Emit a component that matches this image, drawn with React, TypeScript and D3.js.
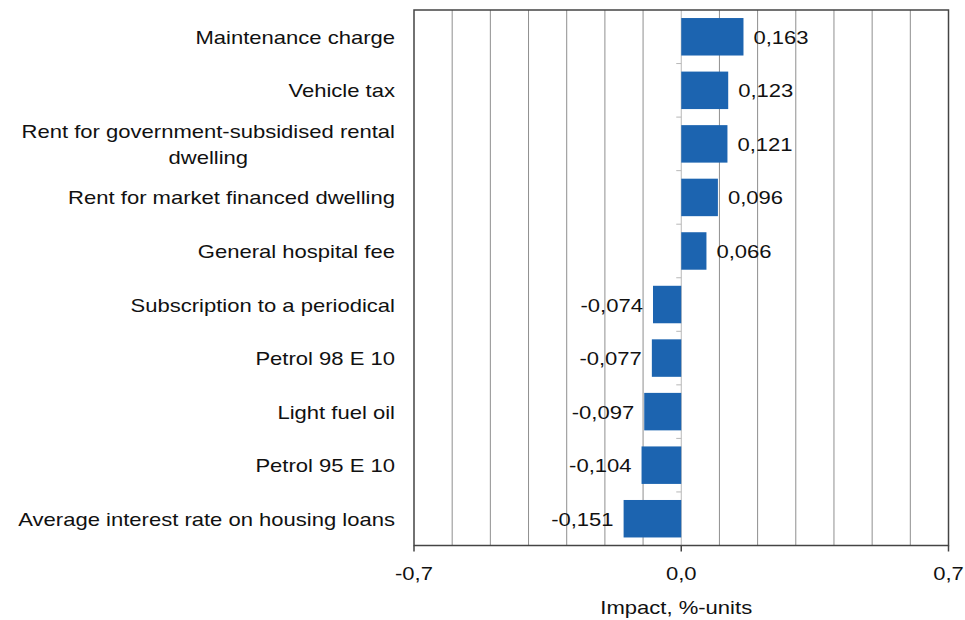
import React, { useEffect, useRef } from 'react';
import * as d3 from 'd3';

const categories = [
  'Maintenance charge',
  'Vehicle tax',
  'Rent for government-subsidised rental dwelling',
  'Rent for market financed dwelling',
  'General hospital fee',
  'Subscription to a periodical',
  'Petrol 98 E 10',
  'Light fuel oil',
  'Petrol 95 E 10',
  'Average interest rate on housing loans',
];
const values = [0.163, 0.123, 0.121, 0.096, 0.066, -0.074, -0.077, -0.097, -0.104, -0.151];
const axisTicks = [-0.7, 0, 0.7];
const gridValues = d3.range(-6, 8).map((d) => d / 10);
const axisTitle = 'Impact, %-units';

const W = 965;
const H = 620;
const SX = 1.16; // source picture is stretched horizontally
const FONT = '"Liberation Sans", Arial, sans-serif';
const fmt = (v: number, digits: number) => v.toFixed(digits).replace('.', ',');

const App = () => {
  const ref = useRef<SVGSVGElement>(null);

  useEffect(() => {
    const svg = d3.select(ref.current);
    svg.selectAll('*').remove();

    const left = 414, right = 948.5, top = 10, bottom = 545.5;
    const x = d3.scaleLinear().domain([-0.7, 0.7]).range([left, right]);
    const y = d3.scaleBand<string>().domain(categories).range([top, bottom])
      .paddingInner(0.3).paddingOuter(0.15);

    const g = svg.append('g');

    // grid lines
    g.selectAll('.grid')
      .data(gridValues.filter((d) => Math.abs(d) > 1e-9 && d < 0.69))
      .enter().append('line')
      .attr('x1', (d) => x(d)).attr('x2', (d) => x(d))
      .attr('y1', top).attr('y2', bottom)
      .attr('stroke', '#8f8f8f').attr('stroke-width', 1);

    // zero axis with category ticks
    g.append('line')
      .attr('x1', x(0)).attr('x2', x(0)).attr('y1', top).attr('y2', bottom)
      .attr('stroke', '#b8b8b8').attr('stroke-width', 1);
    const step = y.step();
    g.selectAll('.ctick')
      .data(d3.range(1, categories.length))
      .enter().append('line')
      .attr('x1', x(0) - 5).attr('x2', x(0))
      .attr('y1', (i) => top + i * step).attr('y2', (i) => top + i * step)
      .attr('stroke', '#b8b8b8').attr('stroke-width', 1);

    // bars
    g.selectAll('.bar')
      .data(values)
      .enter().append('rect')
      .attr('x', (d) => x(Math.min(0, d)))
      .attr('y', (_, i) => y(categories[i])!)
      .attr('width', (d) => Math.abs(x(d) - x(0)))
      .attr('height', y.bandwidth())
      .attr('fill', '#1c64b0');

    // plot border
    g.append('rect')
      .attr('x', left).attr('y', top)
      .attr('width', right - left).attr('height', bottom - top)
      .attr('fill', 'none').attr('stroke', '#444').attr('stroke-width', 1.5);

    // bottom ticks
    g.selectAll('.xtick')
      .data(axisTicks)
      .enter().append('line')
      .attr('x1', (d) => x(d)).attr('x2', (d) => x(d))
      .attr('y1', bottom).attr('y2', bottom + 6)
      .attr('stroke', '#444').attr('stroke-width', 1.5);

    const text = (sel: any, tx: number, ty: number) =>
      sel.attr('transform', `translate(${tx},${ty}) scale(${SX},1)`)
        .attr('font-family', FONT).attr('font-size', 19).attr('fill', '#111');

    axisTicks.forEach((t) => {
      text(g.append('text'), x(t), 580).attr('text-anchor', 'middle').text(fmt(t, 1));
    });
    text(g.append('text'), (left + right) / 2 - 5, 614).attr('text-anchor', 'middle').text(axisTitle);

    // value labels
    values.forEach((v, i) => {
      const cy = y(categories[i])! + y.bandwidth() / 2 + 7;
      text(g.append('text'), v >= 0 ? x(v) + 10 : x(v) - 10, cy)
        .attr('text-anchor', v >= 0 ? 'start' : 'end')
        .text(fmt(v, 3));
    });

    // category labels, wrapped when too long
    const labelX = 395;
    categories.forEach((c) => {
      const cy = y(c)! + y.bandwidth() / 2 + 7;
      const t = text(g.append('text'), labelX, cy).attr('text-anchor', 'end').text(c);
      const w = (t.node() as SVGTextElement).getComputedTextLength() * SX;
      if (w > 420) {
        const words = c.split(' ');
        const last = words.pop()!;
        const first = words.join(' ');
        t.text(first).attr('transform', `translate(${labelX},${cy - 13}) scale(${SX},1)`);
        const w1 = (t.node() as SVGTextElement).getComputedTextLength() * SX;
        text(g.append('text'), labelX - w1 / 2, cy + 13).attr('text-anchor', 'middle').text(last);
      }
    });
  }, []);

  return (
    <svg ref={ref} width={W} height={H}
      style={{ position: 'absolute', left: 0, top: 0, background: '#fff' }} />
  );
};

export default App;
